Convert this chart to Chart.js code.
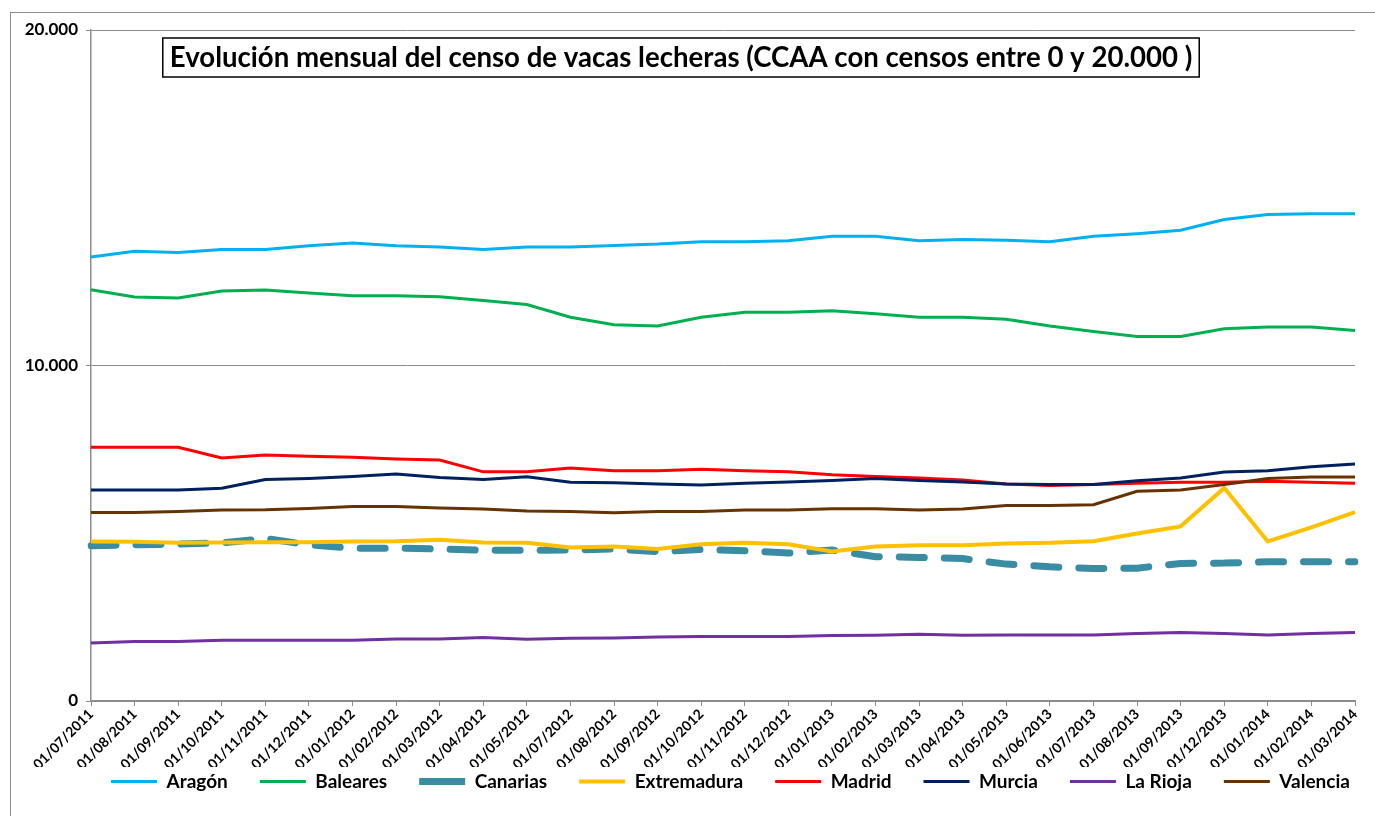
<!DOCTYPE html>
<html>
<head>
<meta charset="utf-8">
<script src="https://cdn.jsdelivr.net/npm/chart.js@4.4.1/dist/chart.umd.min.js"></script>
<style>
  body { margin: 0; background: #fff; overflow: hidden; }
  #frame { position: absolute; left: 10px; top: 12px; width: 1400px; height: 900px; border: 1px solid #8c8c8c; }
  #wrap { position: absolute; left: 0; top: 0; width: 1375px; height: 816px; }
</style>
</head>
<body>
<div id="frame"></div>
<div id="wrap"><canvas id="chart" width="1375" height="816"></canvas></div>
<script>
// Months (Excel category axis, June 2012 and Oct/Nov 2013 are missing in the source)
const months = ['01/07/2011', '01/08/2011', '01/09/2011', '01/10/2011', '01/11/2011', '01/12/2011',
    '01/01/2012', '01/02/2012', '01/03/2012', '01/04/2012', '01/05/2012', '01/07/2012',
    '01/08/2012', '01/09/2012', '01/10/2012', '01/11/2012', '01/12/2012', '01/01/2013',
    '01/02/2013', '01/03/2013', '01/04/2013', '01/05/2013', '01/06/2013', '01/07/2013',
    '01/08/2013', '01/09/2013', '01/12/2013', '01/01/2014', '01/02/2014', '01/03/2014'];

const aragon = [13235, 13405, 13365, 13460, 13460, 13570, 13650, 13570, 13530, 13455, 13530, 13530, 13580, 13620, 13690,
    13690, 13720, 13850, 13850, 13720, 13755, 13730, 13690, 13850, 13930, 14030, 14350, 14500, 14520, 14520];
const baleares = [12260, 12040, 12010, 12220, 12250, 12160, 12080, 12080, 12050, 11940, 11820, 11440, 11215, 11175, 11440,
    11590, 11590, 11630, 11545, 11440, 11440, 11375, 11175, 11015, 10865, 10865, 11095, 11145, 11145, 11045];
const canarias = [4630, 4655, 4675, 4715, 4845, 4655, 4555, 4555, 4530, 4490, 4490, 4500, 4530, 4455, 4515,
    4480, 4410, 4500, 4300, 4280, 4245, 4080, 4000, 3950, 3960, 4100, 4110, 4150, 4150, 4150];
const extremadura = [4755, 4745, 4715, 4725, 4735, 4735, 4755, 4765, 4805, 4725, 4715, 4575, 4605, 4530, 4675,
    4715, 4675, 4455, 4605, 4645, 4645, 4695, 4715, 4765, 4995, 5205, 6350, 4755, 5175, 5630];
const madrid = [7560, 7560, 7560, 7245, 7335, 7295, 7265, 7215, 7185, 6830, 6830, 6945, 6865, 6865, 6905,
    6865, 6830, 6745, 6690, 6650, 6590, 6470, 6420, 6450, 6490, 6520, 6520, 6550, 6520, 6490];
const murcia = [6290, 6290, 6290, 6340, 6600, 6635, 6695, 6765, 6665, 6600, 6685, 6520, 6505, 6470, 6440,
    6490, 6530, 6575, 6635, 6575, 6530, 6470, 6450, 6450, 6565, 6645, 6825, 6865, 6985, 7065];
const laRioja = [1730, 1770, 1770, 1810, 1810, 1810, 1810, 1850, 1850, 1890, 1840, 1870, 1880, 1910, 1920,
    1920, 1920, 1950, 1960, 1990, 1960, 1970, 1970, 1970, 2010, 2040, 2010, 1970, 2010, 2040];
const valencia = [5620, 5620, 5650, 5690, 5700, 5740, 5800, 5800, 5750, 5720, 5660, 5650, 5610, 5650, 5650,
    5690, 5690, 5730, 5730, 5690, 5720, 5830, 5830, 5850, 6250, 6290, 6450, 6635, 6675, 6675];

const yTicks = [0, 10000, 20000];
const yTickLabels = ['0', '10.000', '20.000'];

const titleText = 'Evolución mensual del censo de vacas lecheras (CCAA con censos entre 0 y 20.000 )';
const FONT = 'Lato, "Open Sans", sans-serif';
const AXIS_GREY = '#8c8c8c';

function series(label, data, color, width, extra) {
    return Object.assign({
        label: label,
        data: data,
        borderColor: color,
        backgroundColor: color,
        borderWidth: width,
        pointRadius: 0,
        pointHoverRadius: 0,
        tension: 0,
        fill: false
    }, extra || {});
}

const datasets = [
    series('Aragón', aragon, '#00b0f0', 3),
    series('Baleares', baleares, '#00b050', 3),
    series('Canarias', canarias, '#3a8ca3', 7, { borderDash: [25, 20], borderCapStyle: 'round' }),
    series('Extremadura', extremadura, '#ffc000', 4),
    series('Madrid', madrid, '#ff0000', 3),
    series('Murcia', murcia, '#002060', 3),
    series('La Rioja', laRioja, '#7030a0', 3),
    series('Valencia', valencia, '#663300', 3)
];
// Excel paints later series on top
datasets.forEach((d, i) => { d.order = datasets.length - i; });

// Boxed title drawn inside the plot area
const boxedTitle = {
    id: 'boxedTitle',
    afterDraw(chart) {
        const ctx = chart.ctx;
        const area = chart.chartArea;
        ctx.save();
        ctx.font = 'bold 27.6px ' + FONT;
        const w = ctx.measureText(titleText).width;
        const cx = area.left + 590;
        const cy = area.top + 27;
        ctx.fillStyle = '#fff';
        ctx.fillRect(cx - w / 2 - 7, cy - 19, w + 14, 39);
        ctx.strokeStyle = '#000';
        ctx.lineWidth = 1.5;
        ctx.strokeRect(cx - w / 2 - 7, cy - 19, w + 14, 39);
        ctx.fillStyle = '#000';
        ctx.textAlign = 'center';
        ctx.textBaseline = 'middle';
        ctx.fillText(titleText, cx, cy + 1);
        ctx.restore();
    }
};

// pull the legend row up under the rotated month labels, a bit right of centre
const legendShift = {
    id: 'legendShift',
    afterLayout(chart) {
        const lg = chart.legend;
        if (!lg) return;
        const pad = lg.options.labels.padding;
        const wantTop = chart.chartArea.bottom + 81 - 10 - pad;
        const dy = lg.top - wantTop;
        lg.top -= dy;
        lg.bottom -= dy;
        lg.left += 48;
        lg.right += 48;
    }
};

new Chart(document.getElementById('chart'), {
    type: 'line',
    data: { labels: months, datasets: datasets },
    plugins: [boxedTitle, legendShift],
    options: {
        responsive: false,
        animation: false,
        layout: { padding: { left: 10, right: 20, top: 30, bottom: -12 } },
        plugins: {
            title: { display: false },
            tooltip: { enabled: false },
            legend: {
                position: 'bottom',
                labels: {
                    usePointStyle: true,
                    pointStyle: 'line',
                    pointStyleWidth: 46,
                    boxHeight: 19,
                    padding: 32,
                    color: '#000',
                    font: { family: FONT, size: 19, weight: 'bold' },
                    sort: (a, b) => a.datasetIndex - b.datasetIndex,
                    generateLabels(chart) {
                        const items = Chart.defaults.plugins.legend.labels.generateLabels(chart);
                        items.forEach(it => {
                            it.pointStyle = 'line';
                            // short sample: show two dashes like Excel does
                            if (it.lineDash && it.lineDash.length) it.lineDash = [18, 16];
                        });
                        return items;
                    }
                }
            }
        },
        scales: {
            x: {
                offset: false,
                grid: { drawOnChartArea: false, drawTicks: true, tickLength: 5, color: AXIS_GREY },
                border: { display: true, color: AXIS_GREY, width: 1.5 },
                ticks: {
                    autoSkip: false,
                    maxRotation: 45,
                    minRotation: 45,
                    padding: 0,
                    color: '#000',
                    font: { family: FONT, size: 14, weight: 'bold' }
                },
                afterFit(scale) { scale.height = 66; }
            },
            y: {
                min: 0,
                max: 20000,
                afterBuildTicks(scale) { scale.ticks = yTicks.map(v => ({ value: v })); },
                grid: { color: AXIS_GREY, lineWidth: 1, tickLength: 5 },
                border: { display: true, color: AXIS_GREY, width: 1.5 },
                ticks: {
                    padding: 8,
                    color: '#000',
                    font: { family: FONT, size: 17, weight: 'bold' },
                    callback: (value) => yTickLabels[yTicks.indexOf(value)]
                },
                afterFit(scale) { scale.width = 81; }
            }
        }
    }
});
</script>
</body>
</html>
